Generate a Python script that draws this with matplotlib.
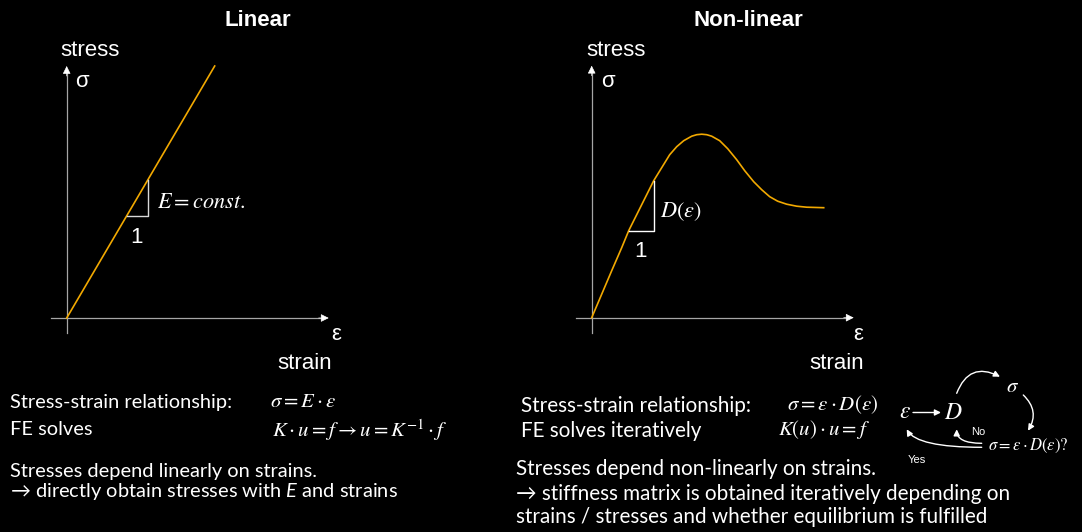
import matplotlib
matplotlib.use("Agg")
import matplotlib.pyplot as plt

# linear material: straight line, stress = E * strain  (units of the sketch)
lin_strain = [0.0, 1.48]
lin_stress = [0.0, 2.52]
# slope triangle on the linear line
lin_tri_strain = [0.60, 0.81, 0.81]
lin_tri_stress = [1.02, 1.02, 1.38]

# non-linear material
nl_strain = [0.00, 0.10, 0.20, 0.30, 0.37, 0.45, 0.53, 0.62, 0.70, 0.78, 0.85, 0.92, 1.00,
             1.05, 1.10, 1.15, 1.20, 1.28, 1.36, 1.45, 1.53, 1.62, 1.70, 1.78, 1.86, 1.95,
             2.05, 2.15, 2.32]
nl_stress = [0.00, 0.235, 0.47, 0.70, 0.87, 1.03, 1.19, 1.37, 1.50, 1.63, 1.71, 1.77, 1.815,
             1.83, 1.835, 1.83, 1.815, 1.77, 1.69, 1.58, 1.47, 1.36, 1.28, 1.21, 1.165, 1.135,
             1.115, 1.105, 1.10]
nl_tri_strain = [0.37, 0.62, 0.62]
nl_tri_stress = [0.87, 0.87, 1.37]

titles = ["Linear", "Non-linear"]

W, H = 1082, 532
SCALE = 100.0   # px per sketch unit
AX_COL = "#a6a6a6"
CURVE = "#f2a900"

plt.rcParams["mathtext.fontset"] = "custom"
plt.rcParams["mathtext.rm"] = "Lato"
plt.rcParams["mathtext.it"] = "Lato:italic"

fig = plt.figure(figsize=(W / 100, H / 100), dpi=100, facecolor="black")


def panel(ox, oy):
    x0, x1, y0, y1 = -0.3, 3.0, -0.6, 3.0
    ax = fig.add_axes([(ox + x0 * SCALE) / W, (H - (oy - y0 * SCALE)) / H,
                       (x1 - x0) * SCALE / W, (y1 - y0) * SCALE / H])
    ax.set_xlim(x0, x1)
    ax.set_ylim(y0, y1)
    ax.axis("off")
    ax.patch.set_alpha(0)
    # axes with arrow heads
    ax.plot([0, 0], [-0.15, 2.45], color=AX_COL, lw=0.9)
    ax.plot([-0.157, 2.55], [0, 0], color=AX_COL, lw=0.9)
    hp = dict(arrowstyle="-|>", color="white", lw=0.5, mutation_scale=12, shrinkA=0, shrinkB=0)
    ax.annotate("", xy=(0, 2.52), xytext=(0, 2.42), arrowprops=hp)
    ax.annotate("", xy=(2.62, 0), xytext=(2.52, 0), arrowprops=hp)
    return ax


ax1 = panel(66.7, 318)
ax1.plot(lin_strain, lin_stress, color=CURVE, lw=1.2)
ax1.plot(lin_tri_strain, lin_tri_stress, color="#d9d9d9", lw=1.0)

ax2 = panel(591.7, 317.7)
ax2.plot(nl_strain, nl_stress, color=CURVE, lw=1.2, solid_joinstyle="round")
ax2.plot(nl_tri_strain, nl_tri_stress, color="white", lw=1.0)

# overlay in pixel coordinates for the text
ax0 = fig.add_axes([0, 0, 1, 1])
ax0.set_xlim(0, W)
ax0.set_ylim(H, 0)
ax0.axis("off")
ax0.patch.set_alpha(0)

arial = "Liberation Sans"
body = ["Lato", "DejaVu Sans"]


def t(x, y, s, size=16, family=arial, ha="left", **kw):
    ax0.text(x, y, s, color="white", fontsize=size, family=family, ha=ha, va="baseline", **kw)


t(257.5, 26, titles[0], weight="bold", ha="center")
t(748.5, 26, titles[1], weight="bold", ha="center")

for lbl_x in [60, 586]:
    t(lbl_x, 56, "stress")
    t(lbl_x + 15, 87, "σ")
t(331, 340, "ε")
t(277, 369, "strain")
t(853, 340, "ε")
t(809, 369, "strain")
t(136, 243, "1", ha="center")
t(640, 257, "1", ha="center")
t(157, 208, r"$E = const.$", size=16, math_fontfamily="stix")
t(660, 217, r"$D(\varepsilon)$", size=16, math_fontfamily="stix")

# explanatory text, left
t(10, 408, "Stress-strain relationship:", size=14.4, family=body)
t(10, 435, "FE solves", size=14.4, family=body)
t(270, 407, r"$\sigma = E \cdot \varepsilon$", size=15, math_fontfamily="stix")
t(272, 437, r"$K \cdot u = f \rightarrow u = K^{-1} \cdot f$", size=15, math_fontfamily="stix")
t(10, 477, "Stresses depend linearly on strains.", size=14.4, family=body)
t(10, 497, "→ directly obtain stresses with $E$ and strains", size=14.4, family=body)

# explanatory text, right
t(521, 412, "Stress-strain relationship:", size=14.9, family=body)
t(521, 437, "FE solves iteratively", size=14.9, family=body)
t(787, 410, r"$\sigma = \varepsilon \cdot D(\varepsilon)$", size=15, math_fontfamily="stix")
t(778, 435, r"$K(u) \cdot u = f$", size=15, math_fontfamily="stix")
t(516, 475, "Stresses depend non-linearly on strains.", size=14.9, family=body)
t(516, 500, "→ stiffness matrix is obtained iteratively depending on", size=14.9, family=body)
t(516, 523, "strains / stresses and whether equilibrium is fulfilled", size=14.9, family=body)

# iteration scheme
t(905, 418, r"$\varepsilon$", size=17, ha="center", math_fontfamily="stix")
t(953, 419, r"$D$", size=17, ha="center", math_fontfamily="stix")
t(1013, 392, r"$\sigma$", size=15, ha="center", math_fontfamily="stix")
t(988, 450, r"$\sigma = \varepsilon \cdot D(\varepsilon)?$", size=12, math_fontfamily="stix")
t(978, 435, "No", size=8, ha="center")
t(917, 463, "Yes", size=8, ha="center")


def arrow(a, b, style):
    ax0.annotate("", xy=b, xytext=a,
                 arrowprops=dict(arrowstyle="-|>", color="white", lw=1.0, mutation_scale=9,
                                 shrinkA=0, shrinkB=0, connectionstyle=style))


arrow((913, 412.5), (941, 412.5), "arc3,rad=0")
arrow((956.7, 393.3), (1000, 376.7), "arc3,rad=-0.55")
arrow((1023.3, 395), (1028, 430.7), "arc3,rad=-0.4")
arrow((981.7, 443.3), (956.7, 429.3), "angle3,angleA=0,angleB=90")
arrow((981.7, 447.3), (906.7, 429.3), "angle3,angleA=0,angleB=120")

fig.savefig("out.png", dpi=100, facecolor="black")
